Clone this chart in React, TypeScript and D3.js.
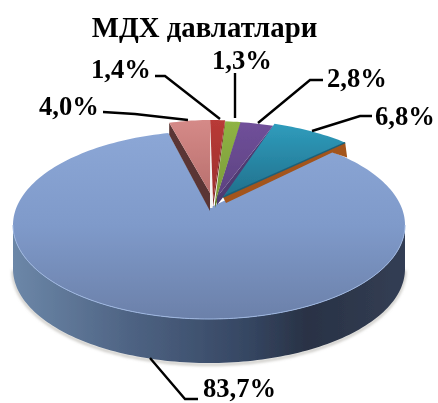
import React from "react";
import * as d3 from "d3";

const title = "МДХ давлатлари";
const categories = ["a", "b", "c", "d", "e", "f"];
const shares = [83.7, 4.0, 1.4, 1.3, 2.8, 6.8];
const labels = ["83,7%", "4,0%", "1,4%", "1,3%", "2,8%", "6,8%"];
const faceColors = ["url(#blueTop)", "url(#pink)", "url(#red)", "url(#green)", "url(#purple)", "url(#teal)"];
const wallColors = ["", "#5a3634", "#7c2523", "#5e7a2e", "#4f3a72", "#a3541b"];

const W = 438, H = 403;
const rad = (deg: number) => (deg * Math.PI) / 180;
const blue = { cx: 209, cy: 225, rx: 196, ry: 94, depth: 44, apex: [209, 208] };
// the big slice runs under its neighbours' walls, so its drawn face is a little wider than its share
const blueOverlap = [rad(6), rad(-2.7)];
// geometry of the pulled-out slices: ellipse used for their outer rim, their apex, wall depths
const rim: Record<number, any> = {
  1: { cx: 211, cy: 206, rx: 165, ry: 86, apex: [210, 193], wall: 12, wallApex: 18 },
  2: { cx: 211, cy: 205, rx: 170, ry: 85, apex: [213, 200], wall: 7, wallApex: 7 },
  3: { cx: 209, cy: 205, rx: 196, ry: 84, apex: [215, 202], wall: 6, wallApex: 6 },
  4: { cx: 209, cy: 205, rx: 192, ry: 84, apex: [217, 197], wall: 8, wallApex: 8 },
  5: { cx: 209, cy: 203, rx: 196, ry: 84, apex: [223, 197], wall: 15, wallApex: 6 },
};
const leaders: Record<number, any> = {
  0: { from: [150, 358], via: [185, 399], to: [198, 399], text: [203, 397] },
  1: { from: [188, 120], via: [135, 114], to: [103, 112], text: [39, 115] },
  2: { from: [220, 119], via: [165, 76], to: [155, 76], text: [91, 78] },
  3: { from: [235, 118], via: [235, 85], to: [235, 73], text: [212, 69] },
  4: { from: [258, 123], via: [310, 80], to: [323, 80], text: [327, 87] },
  5: { from: [312, 131], via: [360, 116], to: [372, 116], text: [375, 125] },
};

const pie = d3.pie<number>().sort(null).startAngle(rad(44)).endAngle(rad(404));
const arcs = pie(shares);

const pt = (e: any, a: number): [number, number] => [e.cx + e.rx * Math.sin(a), e.cy - e.ry * Math.cos(a)];
const line = d3.line();

function rimPts(e: any, a0: number, a1: number) {
  const n = Math.max(4, Math.ceil(Math.abs(a1 - a0) * 40));
  return d3.range(n + 1).map((i) => pt(e, a0 + ((a1 - a0) * i) / n));
}

function wallPath(i: number, first: [number, number], last: [number, number]) {
  const e = rim[i];
  const edge = i === 1 ? first : last;
  const near: [number, number] = [e.apex[0] + (i === 5 ? 3 : 0), e.apex[1] + e.wallApex];
  const low: [number, number] = [edge[0] + (i === 5 ? 2 : 0), edge[1] + e.wall];
  // the orange wall disappears behind the big slice's rim before it reaches the corner
  const notch: [number, number][] = i === 5 ? [[low[0] - 15, low[1] - 5]] : [];
  return line([edge, low, ...notch, near, e.apex])! + "Z";
}

export default function App() {
  const bluePts = rimPts(blue, arcs[0].startAngle - blueOverlap[0], arcs[0].endAngle - blueOverlap[1]);
  const facePath = line([blue.apex as [number, number], ...bluePts])! + "Z";
  const front = rimPts(blue, Math.PI / 2, (3 * Math.PI) / 2);
  const lower = front.map(([x, y]) => [x, y + blue.depth] as [number, number]).reverse();
  const sidePath = line([...front, ...lower])! + "Z";
  const shadowPath = line(lower.map(([x, y]) => [x, y + 1.5] as [number, number]))!;

  return (
    <svg width={W} height={H} style={{ position: "absolute", left: 0, top: 0, background: "#fff" }}>
      <defs>
        <linearGradient id="blueTop" gradientUnits="userSpaceOnUse" x1="0" y1="130" x2="0" y2="320">
          <stop offset="0" stopColor="#8ca7d6" />
          <stop offset="0.5" stopColor="#7f9aca" />
          <stop offset="1" stopColor="#6b80a9" />
        </linearGradient>
        <linearGradient id="blueSide" gradientUnits="userSpaceOnUse" x1="13" y1="0" x2="405" y2="0">
          <stop offset="0" stopColor="#6c87a8" />
          <stop offset="0.3" stopColor="#4e6383" />
          <stop offset="0.6" stopColor="#354662" />
          <stop offset="0.75" stopColor="#293245" />
          <stop offset="1" stopColor="#333e54" />
        </linearGradient>
        <linearGradient id="pink" x1="0" y1="0" x2="0" y2="1">
          <stop offset="0" stopColor="#d58a88" /><stop offset="1" stopColor="#b9706e" />
        </linearGradient>
        <linearGradient id="red" x1="0" y1="0" x2="0" y2="1">
          <stop offset="0" stopColor="#b93a37" /><stop offset="1" stopColor="#9c2f2d" />
        </linearGradient>
        <linearGradient id="green" x1="0" y1="0" x2="0" y2="1">
          <stop offset="0" stopColor="#8fb344" /><stop offset="1" stopColor="#7a9a39" />
        </linearGradient>
        <linearGradient id="purple" x1="0" y1="0" x2="0" y2="1">
          <stop offset="0" stopColor="#70509a" /><stop offset="1" stopColor="#5c4180" />
        </linearGradient>
        <linearGradient id="teal" x1="0" y1="0" x2="0" y2="1">
          <stop offset="0" stopColor="#2f9cbc" /><stop offset="1" stopColor="#21708c" />
        </linearGradient>
        <filter id="soft" x="-5%" y="-5%" width="110%" height="110%"><feGaussianBlur stdDeviation="0.5" /></filter>
        <filter id="shade" x="-5%" y="-20%" width="110%" height="140%"><feGaussianBlur stdDeviation="1.5" /></filter>
      </defs>

      <g filter="url(#soft)">
        <path d={shadowPath} fill="none" stroke="#b5b3ad" strokeWidth={2} filter="url(#shade)" />
        <path d={sidePath} fill="url(#blueSide)" />
        <path d={facePath} fill={faceColors[0]} />
        <path d={line(front)!} fill="none" stroke="#9db6e0" strokeWidth={1} />

        <rect x={210} y={120} width={2.5} height={88} fill="#f4f4f4" />
        {arcs.slice(1).map((a, k) => {
          const i = k + 1;
          const e = rim[i];
          const pts = rimPts(e, a.startAngle, a.endAngle);
          return (
            <g key={categories[i]}>
              <path d={wallPath(i, pts[0], pts[pts.length - 1])} fill={wallColors[i]} />
              <path d={line([e.apex, ...pts])! + "Z"} fill={faceColors[i]} />
              {i === 5 && <path d={line([e.apex, pts[pts.length - 1]])!} fill="none" stroke="#1d5f78" strokeWidth={1.5} />}
            </g>
          );
        })}
      </g>

      <g style={{ filter: "blur(0.3px)" }}>
        {labels.map((t, i) => {
          const l = leaders[i];
          return (
            <g key={t}>
              <path d={line([l.from, l.via, l.to])!} fill="none" stroke="#000" strokeWidth={2.4} />
              <text x={l.text[0]} y={l.text[1]} fontFamily="'Liberation Serif', serif" fontWeight="bold" fontSize={26.6} fill="#000">{t}</text>
            </g>
          );
        })}
        <text x={204.5} y={37} textAnchor="middle" fontFamily="'Liberation Serif', serif" fontWeight="bold" fontSize={28.8} fill="#000">{title}</text>
      </g>
    </svg>
  );
}
